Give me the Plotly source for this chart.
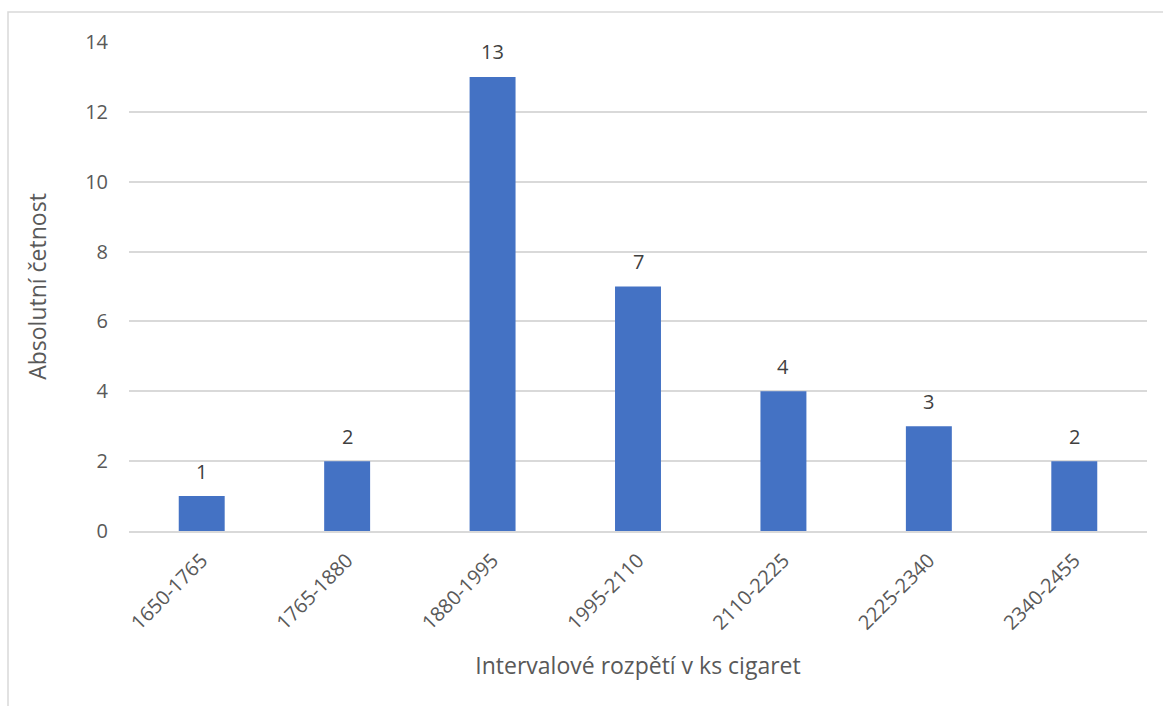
import plotly.graph_objects as go

categories = ["1650-1765", "1765-1880", "1880-1995", "1995-2110", "2110-2225", "2225-2340", "2340-2455"]
counts = [1, 2, 13, 7, 4, 3, 2]
y_ticks = [0, 2, 4, 6, 8, 10, 12, 14]

W, H = 1163, 706
ml, mr, mt, mb = 129, 16, 42, 175
pw, ph = W - ml - mr, H - mt - mb

fig = go.Figure(go.Bar(
    x=categories, y=counts,
    marker=dict(color="#4472C4", line=dict(width=0)),
    cliponaxis=False, hoverinfo="x+y",
))

# data labels above bars
for c, v in zip(categories, counts):
    fig.add_annotation(x=c, y=v, text=str(v), showarrow=False,
                       yanchor="middle", yshift=25,
                       font=dict(family="Open Sans", size=20, color="#404040"))

# chart border (clipped at right/bottom like the reference)
fig.add_shape(type="rect", xref="paper", yref="paper",
              x0=(8 - ml) / pw, x1=(W + 20 - ml) / pw,
              y0=(H - mb - (H + 20)) / ph, y1=(H - mb - 12) / ph,
              line=dict(color="#D9D9D9", width=1.5), fillcolor="rgba(0,0,0,0)", layer="below")

fig.update_layout(
    width=W, height=H,
    margin=dict(l=ml, r=mr, t=mt, b=mb),
    paper_bgcolor="white", plot_bgcolor="white",
    bargap=0.684, showlegend=False,
    font=dict(family="Open Sans", color="#595959"),
    xaxis=dict(
        tickangle=-45, tickfont=dict(size=20, color="#595959"),
        showgrid=False, showline=True, linecolor="#D9D9D9", linewidth=1.5,
        ticks="", ticklabelstandoff=8,
        title=dict(text="Intervalové rozpětí v ks cigaret",
                   font=dict(size=23, color="#595959"), standoff=24),
    ),
    yaxis=dict(
        range=[0, 14], tickvals=y_ticks, tickfont=dict(size=20, color="#595959"),
        showgrid=True, gridcolor="#D9D9D9", gridwidth=1.5, zeroline=False,
        showline=False, ticks="", ticklabelstandoff=20,
        title=dict(text="Absolutní četnost", font=dict(size=23, color="#595959"), standoff=32),
    ),
)

fig.write_html("out.html")
